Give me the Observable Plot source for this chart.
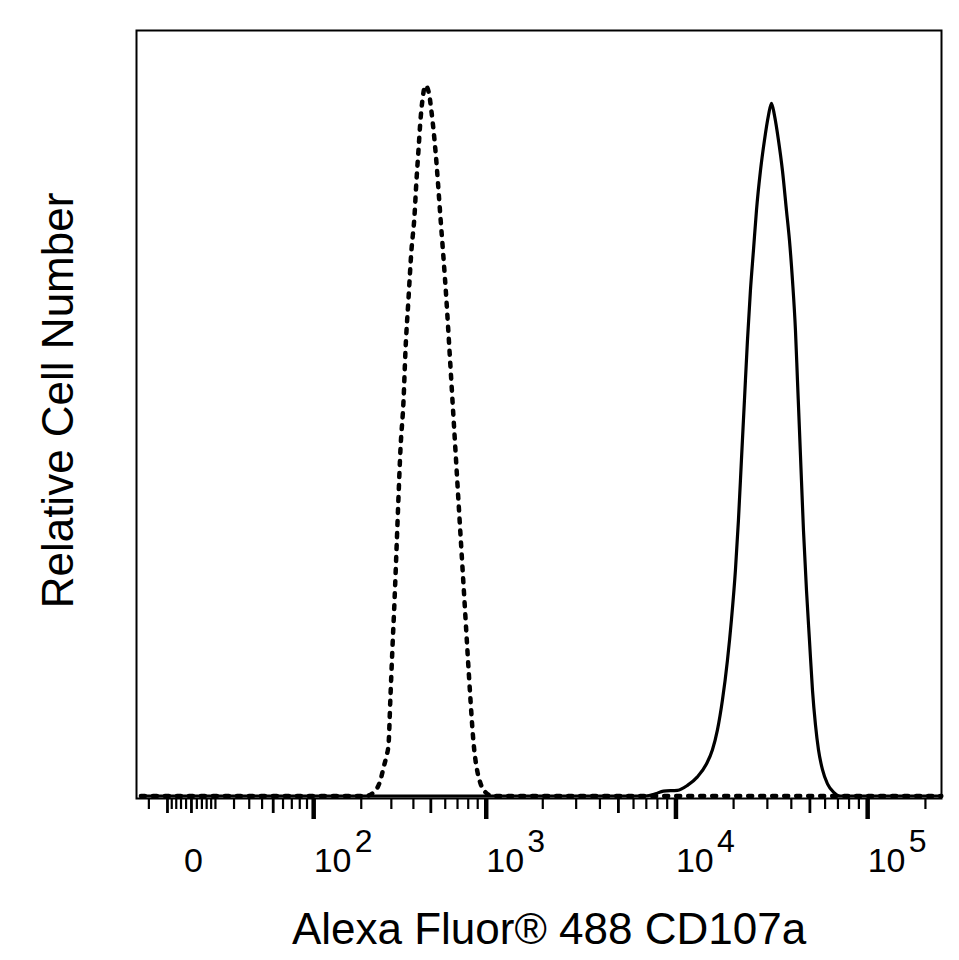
<!DOCTYPE html>
<html><head><meta charset="utf-8">
<script src="https://cdn.jsdelivr.net/npm/d3@7"></script>
<script src="https://cdn.jsdelivr.net/npm/@observablehq/plot@0.6"></script>
<style>body{margin:0;background:#fff}</style>
</head><body><div id="chart"></div>
<script>
// Isotype control (dotted) – fluorescence values and relative cell number (%)
const isotypeX = [-25, 198, 212, 239, 260, 270, 281, 289, 296, 304, 313, 321, 329, 338, 352, 361, 375, 390, 405, 416, 427, 438, 449, 467, 491, 497, 530, 565, 609, 633, 657, 682, 708, 735, 763, 792, 823, 854, 875, 897, 931, 1003, 1094, 242000];
const isotypeY = [0, 0, 0, 0.6, 2.3, 3.9, 5.6, 7.2, 13.5, 20.5, 27.6, 34.6, 41.6, 48.7, 55.7, 62.7, 69.8, 76.8, 81.4, 86.6, 90.9, 95.1, 97.9, 100, 98.6, 97.6, 90.9, 81.4, 69.8, 62.7, 55.7, 48.7, 41.6, 34.6, 27.6, 20.5, 13.5, 7.6, 5.1, 3.4, 1.8, 0.4, 0, 0];
// CD107a stained (solid)
const stainedX = [-25, 6927, 7812, 8604, 10179, 11484, 12948, 14430, 15511, 16471, 17491, 18573, 19488, 20445, 21195, 21975, 22782, 23619, 24486, 25386, 26319, 27612, 28974, 30402, 31518, 32673, 34281, 35970, 37740, 39123, 40557, 42045, 43065, 44112, 45183, 46281, 47979, 49740, 51564, 53454, 55416, 58143, 61740, 66342, 72087, 242000];
const stainedY = [0, 0, 0.3, 0.7, 0.8, 1.5, 2.7, 4.5, 6.5, 9.3, 13.5, 19.1, 24.8, 31.8, 38.8, 47.3, 55.7, 64.1, 71.2, 76.8, 82.4, 88.0, 92.3, 95.8, 97.5, 95.8, 92.3, 88.0, 82.4, 78.2, 72.6, 65.5, 58.5, 51.5, 44.4, 37.4, 29.0, 21.9, 14.9, 10.0, 6.5, 3.7, 1.7, 0.56, 0, 0];

const majorTicks = [100, 1000, 10000, 100000];
const midTicks = [-10, 0, 50, 500, 5000, 50000];
const minorTicks = [-20, -8, -6, -4, -2, 2, 4, 6, 8, 10, 20, 30, 40, 60, 70, 80, 90, 200, 300, 400, 600, 700, 800, 900, 2000, 3000, 4000, 6000, 7000, 8000, 9000, 20000, 30000, 40000, 60000, 70000, 80000, 90000, 200000];
const zeroTickLabel = [0];
const xLabel = "Alexa Fluor® 488 CD107a";
const yLabel = "Relative Cell Number";

const isotype = isotypeX.map((x, i) => ({x, y: isotypeY[i]}));
const stained = stainedX.map((x, i) => ({x, y: stainedY[i]}));

const chart = Plot.plot({
  width: 959,
  height: 960,
  marginLeft: 136,
  marginRight: 18,
  marginTop: 30,
  marginBottom: 162,
  style: {fontFamily: "'Liberation Sans', Arial, Helvetica, sans-serif", color: "black", background: "white"},
  x: {type: "symlog", constant: 30, domain: [-28, 242530]},
  y: {domain: [-0.35, 107.74], axis: null},
  marks: [
    Plot.line(isotype, {x: "x", y: "y", stroke: "black", strokeWidth: 4.5, strokeDasharray: "4,8", curve: "monotone-x"}),
    Plot.line(stained, {x: "x", y: "y", stroke: "black", strokeWidth: 3.2, curve: "monotone-x"}),
    Plot.frame({stroke: "black", strokeWidth: 2}),
    Plot.axisX({ticks: minorTicks, tickSize: 11, strokeWidth: 2.2, tickFormat: () => "", label: null}),
    Plot.axisX({ticks: midTicks, tickSize: 15, strokeWidth: 2.8, tickFormat: () => "", label: null}),
    Plot.axisX({ticks: majorTicks, tickSize: 21, strokeWidth: 4.5, tickFormat: () => "", label: null}),
    Plot.text(majorTicks, {x: d => d, frameAnchor: "bottom", dy: 49, lineAnchor: "top", textAnchor: "start",
      fontSize: 34, text: d => "10^" + Math.round(Math.log10(d))}),
    Plot.text(zeroTickLabel, {x: d => d, frameAnchor: "bottom", dy: 49, dx: 2, lineAnchor: "top", textAnchor: "middle",
      fontSize: 34, text: d => String(d)}),
    Plot.text([xLabel], {text: d => d, frameAnchor: "bottom", dx: 10, dy: 145, fontSize: 44, lineAnchor: "bottom", textAnchor: "middle"}),
    Plot.text([yLabel], {text: d => d, frameAnchor: "left", rotate: -90, dx: -78, dy: -14, fontSize: 44, lineAnchor: "middle", textAnchor: "middle"})
  ]
});

chart.querySelectorAll("text").forEach(t => {
  const m = /^10\^(\d)$/.exec(t.textContent);
  if (m) {
    t.textContent = "10";
    const ts = document.createElementNS("http://www.w3.org/2000/svg", "tspan");
    ts.setAttribute("dy", "-0.62em");
    ts.setAttribute("dx", "0.1em");
    ts.setAttribute("font-size", "32");
    ts.textContent = m[1];
    t.appendChild(ts);
  }
});
document.getElementById("chart").appendChild(chart);
</script>
</body></html>
